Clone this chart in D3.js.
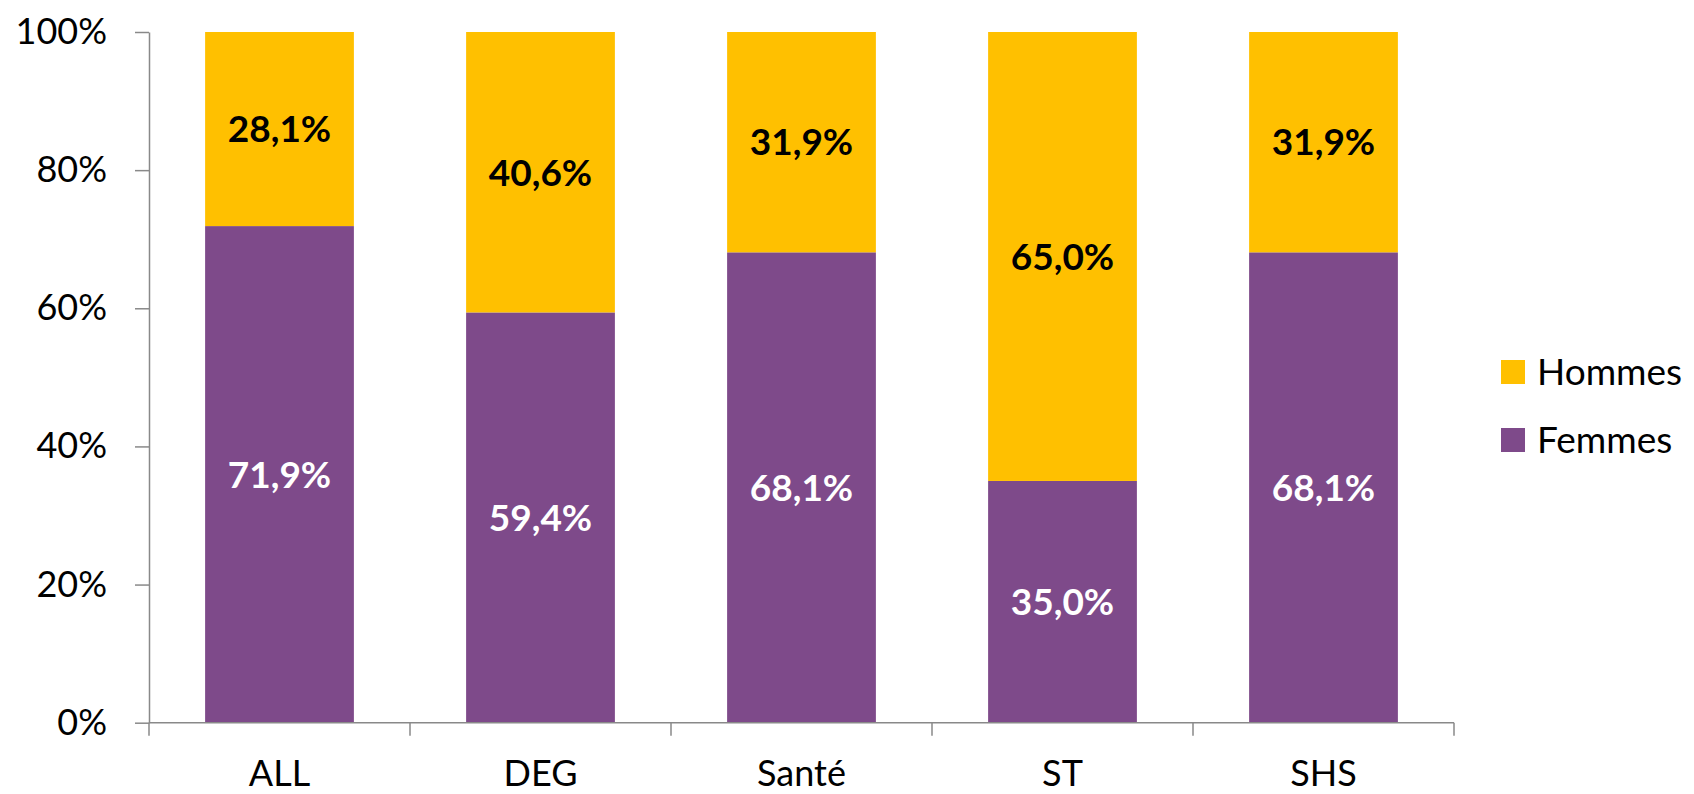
<!DOCTYPE html>
<html>
<head>
<meta charset="utf-8">
<script src="https://cdn.jsdelivr.net/npm/d3@7"></script>
<style>
  html, body { margin: 0; padding: 0; background: #fff; }
  svg { display: block; font-family: Lato, "Open Sans", sans-serif; }
</style>
</head>
<body>
<svg id="chart" width="1694" height="794"></svg>
<script>
const categories = ["ALL", "DEG", "Santé", "ST", "SHS"];
const femmes = [71.9, 59.4, 68.1, 35.0, 68.1];
const hommes = [28.1, 40.6, 31.9, 65.0, 31.9];
const yTicks = [0, 20, 40, 60, 80, 100];
const seriesNames = ["Hommes", "Femmes"];
const seriesColors = ["#FFC000", "#7E4A8A"];

(function () {
const svg = d3.select("#chart");
const mLeft = 149, mRight = 1454, mTop = 32, mBottom = 722.7;

const x = d3.scaleBand().domain(categories).range([mLeft, mRight])
  .paddingInner(0.43).paddingOuter(0.215);
const y = d3.scaleLinear().domain([0, 100]).range([mBottom, mTop]);

const fmt = v => v.toFixed(1).replace(".", ",") + "%";

const rows = categories.map((c, i) => ({ cat: c, Femmes: femmes[i], Hommes: hommes[i] }));
const stack = d3.stack().keys(["Femmes", "Hommes"])(rows);
const colorOf = { Hommes: seriesColors[0], Femmes: seriesColors[1] };
const labelColor = { Hommes: "#000", Femmes: "#fff" };

// bars
const layers = svg.append("g").selectAll("g").data(stack).join("g")
  .attr("fill", d => colorOf[d.key]);
layers.selectAll("rect").data(d => d).join("rect")
  .attr("x", d => x(d.data.cat))
  .attr("width", x.bandwidth())
  .attr("y", d => y(d[1]))
  .attr("height", d => y(d[0]) - y(d[1]));

// labels
stack.forEach(layer => {
  svg.append("g").selectAll("text").data(layer).join("text")
    .attr("x", d => x(d.data.cat) + x.bandwidth() / 2)
    .attr("y", d => (y(d[0]) + y(d[1])) / 2)
    .attr("dy", "0.36em")
    .attr("text-anchor", "middle")
    .attr("font-weight", "bold")
    .attr("font-size", 37)
    .attr("fill", labelColor[layer.key])
    .text(d => fmt(d.data[layer.key]));
});

// y axis
const yAxis = d3.axisLeft(y).tickValues(yTicks).tickFormat(d => d + "%")
  .tickSize(14).tickSizeOuter(0).tickPadding(28);
const gy = svg.append("g").attr("transform", `translate(${mLeft},0)`).call(yAxis);
gy.selectAll("line, path").attr("stroke", "#898989").attr("stroke-width", 1.5);
gy.selectAll("text").attr("font-size", 36).attr("fill", "#000")
  .attr("font-family", "Lato, sans-serif");

// x axis (labels centred, ticks at band boundaries)
const xAxis = d3.axisBottom(x).tickSize(0).tickPadding(38).tickSizeOuter(0);
const gx = svg.append("g").attr("transform", `translate(0,${mBottom})`).call(xAxis);
gx.select("path").attr("stroke", "#898989").attr("stroke-width", 1.5)
  .attr("d", `M${mLeft},0H${mRight}`);
gx.selectAll("text").attr("font-size", 36).attr("fill", "#000")
  .attr("font-family", "Lato, sans-serif");
const bounds = categories.map(c => x(c) - x.step() * x.paddingInner() / 2)
  .concat([mRight]);
gx.selectAll("line.bound").data(bounds).join("line").attr("class", "bound")
  .attr("x1", d => d).attr("x2", d => d).attr("y1", 0).attr("y2", 13)
  .attr("stroke", "#898989").attr("stroke-width", 1.5);

// legend
const lg = svg.append("g").attr("transform", "translate(1501,360)");
seriesNames.forEach((n, i) => {
  const g = lg.append("g").attr("transform", `translate(0,${i * 68})`);
  g.append("rect").attr("width", 24).attr("height", 24).attr("fill", seriesColors[i]);
  g.append("text").attr("x", 36).attr("y", 12).attr("dy", "0.36em")
    .attr("font-size", 37).attr("fill", "#000").text(n);
});
})();
</script>
</body>
</html>
